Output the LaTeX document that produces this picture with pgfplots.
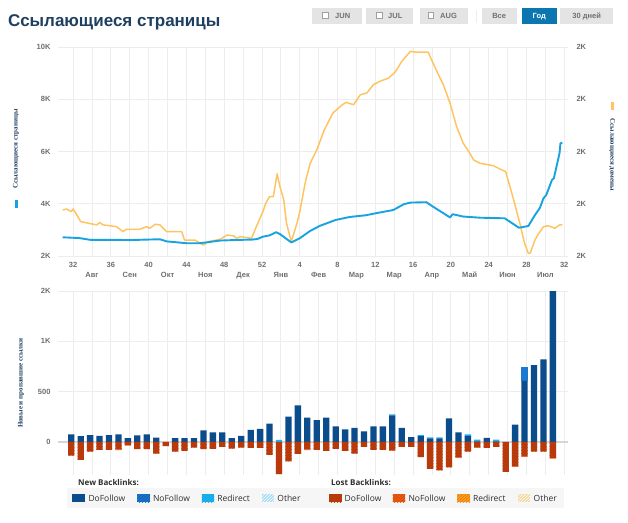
\documentclass[border=0pt]{standalone}
\usepackage{pgfplots}
\pgfplotsset{compat=1.18}
\usepackage{pgfplotstable}
\usepackage{fontspec}
\setmainfont{Liberation Sans}
\newfontfamily\serifb{Liberation Serif}
\newfontfamily\legfont{Open Sans}
\usetikzlibrary{patterns}

\definecolor{navy}{HTML}{1F3F60}
\definecolor{gridgray}{HTML}{EDEDED}
\definecolor{zerogray}{HTML}{D6D6D6}
\definecolor{labgray}{HTML}{6E6E6E}
\definecolor{monthgray}{HTML}{8C8C8C}
\definecolor{blueline}{HTML}{17A2E0}
\definecolor{yellowline}{HTML}{FFC462}
\definecolor{newDo}{HTML}{0B4C8C}
\definecolor{newNo}{HTML}{1D78D0}
\definecolor{newRe}{HTML}{1AB3F0}
\definecolor{newOt}{HTML}{A6DDF7}
\definecolor{lostDo}{HTML}{BE3C0C}
\definecolor{lostDoD}{HTML}{B0360A}
\definecolor{lostNo}{HTML}{EE5A10}
\definecolor{lostRe}{HTML}{F6A11C}
\definecolor{lostOt}{HTML}{F3D7A0}
\definecolor{legbg}{HTML}{F6F6F6}
\definecolor{btngray}{HTML}{E4E4E4}
\definecolor{btntext}{HTML}{707070}
\definecolor{godblue}{HTML}{0B76B0}
\definecolor{checkgray}{HTML}{A0A0A0}
\definecolor{legtext}{HTML}{2E2E2E}

% Referring pages (left axis)
\pgfplotstableread{
t v
-1.1 2716
-0.2 2700
0.6 2690
1.8 2620
4 2620
6 2610
8 2630
9.2 2640
9.9 2560
12 2490
13.4 2490
14.1 2520
15.5 2590
17 2610
19 2630
19.5 2650
20.1 2740
20.8 2790
21.5 2910
21.9 2840
23.1 2520
24 2680
25.1 2960
26.1 3150
27.8 3380
29.3 3495
31 3560
32.1 3640
33.9 3760
35 3980
35.7 4045
37.4 4060
38.1 3890
39.9 3480
40.2 3600
41.3 3510
43.1 3466
45.7 3443
47.2 3083
48.2 3148
48.9 3569
49.4 3825
49.8 4208
50.1 4335
50.7 4909
50.9 4973
51.5 5931
51.6 6314
51.8 6340
}\pagesT

% Referring domains (drawn on the same scale)
\pgfplotstableread{
t v
-1.1 3764
-0.7 3800
-0.2 3700
0 3800
0.4 3570
0.8 3316
2.5 3190
2.8 3280
3.2 3190
4.6 3125
5.3 2930
5.6 3020
7 3020
7.8 3125
8.1 3060
8.7 3215
9.2 3190
9.9 2930
11.5 2930
11.8 2610
12.9 2610
13.8 2420
14.3 2550
15.6 2640
16.3 2805
17 2770
17.3 2680
17.7 2740
18.9 2680
19.4 3125
20.1 3700
20.4 4020
20.8 4275
21.2 4275
21.6 5145
21.9 4660
22.3 4150
22.6 3250
23.1 2550
23.7 3250
24 3700
24.6 4850
25.1 5550
25.8 6060
26.6 6830
27.5 7470
28.5 7790
28.9 7880
29.7 7790
30.4 8170
31.1 8240
31.8 8560
32.5 8690
33.4 8810
34.1 9040
34.8 9450
35.7 9830
36.4 9800
37.6 9800
38.1 9390
38.6 9000
39.2 8560
39.9 7860
40.6 6960
41.3 6320
42 5940
42.4 5680
43.1 5548
44.5 5457
45.2 5330
45.8 5227
46.2 4717
46.6 4208
47.3 3251
47.8 2486
48.2 2103
48.4 2110
48.9 2612
49.2 2804
49.8 3122
50.3 3160
51 3060
51.5 3187
51.8 3187
}\domainsT

% weekly new / lost backlinks
\pgfplotstableread{
t ndo nno nre ldo lno
-0.2 73 0 0 -137 0
0.8 57 0 0 -180 0
1.8 67 0 0 -97 0
2.8 60 0 0 -80 0
3.8 67 0 0 -80 0
4.8 73 0 0 -75 -8
5.8 37 0 0 -30 -8
6.8 63 0 0 -73 0
7.8 73 0 0 -73 0
8.8 43 0 0 -117 0
9.8 0 0 0 -43 0
10.8 37 0 0 -97 0
11.8 37 0 0 -90 0
12.8 37 0 0 -57 0
13.8 113 0 0 -73 0
14.8 93 0 0 -70 0
15.8 93 0 0 -50 0
16.8 37 0 0 -67 0
17.8 60 0 0 -57 0
18.8 120 0 0 -60 0
19.8 130 0 0 -60 0
20.8 180 0 0 -130 0
21.8 0 0 20 -320 0
22.8 250 0 0 -194 0
23.8 363 0 0 -120 0
24.8 240 0 0 -75 -8
25.8 217 0 0 -80 0
26.8 240 0 0 -90 0
27.8 153 0 0 -70 0
28.8 123 0 0 -90 0
29.8 140 0 0 -117 0
30.8 103 0 0 -50 0
31.8 153 0 0 -80 0
32.8 153 0 0 -80 0
33.8 263 0 10 -85 -5
34.8 140 0 0 -50 0
35.8 47 0 0 -50 0
36.8 57 0 10 -153 0
37.8 35 0 10 -270 0
38.8 35 0 10 -283 0
39.8 233 0 0 -253 0
40.8 93 0 0 -155 -5
41.8 60 0 13 -97 0
42.8 5 0 18 -55 -5
43.8 40 0 0 -60 0
44.8 5 0 18 -50 0
45.8 0 0 0 -300 0
46.8 170 0 0 -245 -5
47.8 607 133 0 -145 -5
48.8 763 0 0 -97 0
49.8 820 0 0 -97 0
50.8 1500 0 0 -160 -7
}\barsT

\pgfplotsset{
  base/.style={
    scale only axis, width=510pt,
    xmin=-1.6, xmax=52.4,
    axis line style={draw=none},
    tick style={draw=none},
    scaled ticks=false,
  },
  tlab/.style={font=\fontsize{7.5}{9}\selectfont\bfseries, text=labgray},
}

\begin{document}
\begin{tikzpicture}
\useasboundingbox (0,0) rectangle (628pt,-522pt);

% ---------- title and buttons ----------
\node[anchor=base west, inner sep=0, font=\fontsize{17}{17}\selectfont\bfseries, text=navy] at (8pt,-26pt) {Ссылающиеся страницы};

\fill[btngray] (312pt,-8.3pt) rectangle (362pt,-24pt);
\draw[checkgray, fill=white, line width=0.6pt] (322.7pt,-12.7pt) rectangle (328.3pt,-18.3pt);
\node[anchor=west, inner sep=0, font=\fontsize{7.5}{9}\selectfont\bfseries, text=btntext] at (335pt,-16.2pt) {JUN};
\fill[btngray] (365.7pt,-8.3pt) rectangle (413.3pt,-24pt);
\draw[checkgray, fill=white, line width=0.6pt] (376.7pt,-12.7pt) rectangle (382.3pt,-18.3pt);
\node[anchor=west, inner sep=0, font=\fontsize{7.5}{9}\selectfont\bfseries, text=btntext] at (388pt,-16.2pt) {JUL};
\fill[btngray] (419.7pt,-8.3pt) rectangle (468pt,-24pt);
\draw[checkgray, fill=white, line width=0.6pt] (428pt,-12.7pt) rectangle (433.6pt,-18.3pt);
\node[anchor=west, inner sep=0, font=\fontsize{7.5}{9}\selectfont\bfseries, text=btntext] at (440pt,-16.2pt) {AUG};
\draw[gridgray, line width=0.8pt] (476pt,-10pt) -- (476pt,-23pt);
\fill[btngray] (481.7pt,-8.3pt) rectangle (516.7pt,-24pt);
\node[inner sep=0, font=\fontsize{7.5}{9}\selectfont\bfseries, text=btntext] at (499.2pt,-16.2pt) {Все};
\fill[godblue] (521.7pt,-8.3pt) rectangle (556.7pt,-24pt);
\node[inner sep=0, font=\fontsize{7.5}{9}\selectfont\bfseries, text=white] at (539.2pt,-16.2pt) {Год};
\fill[btngray] (560pt,-8.3pt) rectangle (613.3pt,-24pt);
\node[inner sep=0, font=\fontsize{7.5}{9}\selectfont\bfseries, text=btntext] at (586.7pt,-16.2pt) {30 дней};

% ---------- top chart ----------
\begin{axis}[base,
  at={(58pt,-256pt)}, anchor=south west, height=209pt,
  ymin=2000, ymax=10000,
  xtick={0,4,...,52},
  xticklabels={32,36,40,44,48,52,4,8,12,16,20,24,28,32},
  extra x ticks={2,6,...,50},
  extra x tick labels={Авг,Сен,Окт,Ноя,Дек,Янв,Фев,Мар,Мар,Апр,Май,Июн,Июл},
  extra x tick style={grid=major, tick label style={yshift=-10pt, text height=5.5pt, text depth=1pt, font=\serifb\fontsize{7}{8}\selectfont\bfseries, text=monthgray}},
  xticklabel style={tlab, yshift=-2pt, text height=5.5pt, text depth=0pt},
  ytick={2000,4000,...,10000},
  yticklabels={2K,4K,6K,8K,10K},
  yticklabel style={tlab, xshift=-4pt},
  xmajorgrids, ymajorgrids,
  grid style={draw=gridgray, line width=1pt},
]
\addplot[yellowline, line width=1.5pt, line join=round] table[x=t, y=v] {\domainsT};
\addplot[blueline, line width=1.9pt, line join=round] table[x=t, y=v] {\pagesT};
\end{axis}
% right-hand labels of the domains axis
\begin{axis}[base,
  at={(58pt,-256pt)}, anchor=south west, height=209pt,
  ymin=2000, ymax=10000,
  hide x axis,
  ytick={2000,4000,...,10000},
  yticklabels={2K,2K,2K,2K,2K},
  yticklabel pos=right,
  yticklabel style={tlab, xshift=5pt},
]
\addplot[draw=none] coordinates {(0,5000)};
\end{axis}

% ---------- bottom chart: new backlinks ----------
\begin{axis}[base,
  at={(58pt,-475pt)}, anchor=south west, height=184pt,
  ymin=-330, ymax=1500,
  xtick={0,2,...,52}, xticklabels={},
  ytick={0,500,1000,1500},
  yticklabels={0,500,1K,2K},
  yticklabel style={tlab, xshift=-4pt},
  extra y ticks={0}, extra y tick labels={},
  extra y tick style={grid=major, grid style={draw=zerogray, line width=1.6pt}},
  xmajorgrids, ymajorgrids,
  grid style={draw=gridgray, line width=1pt},
  ybar stacked, bar width=6.3pt,
]
\addplot[fill=newDo, draw=none] table[x=t, y=ndo] {\barsT};
\addplot[fill=newNo, draw=none] table[x=t, y=nno] {\barsT};
\addplot[fill=newRe, draw=none] table[x=t, y=nre] {\barsT};
\end{axis}
% ---------- bottom chart: lost backlinks ----------
\begin{axis}[base,
  at={(58pt,-475pt)}, anchor=south west, height=184pt,
  ymin=-330, ymax=1500,
  hide axis,
  ybar stacked, bar width=6.3pt,
]
\addplot[fill=lostDo, draw=none, postaction={pattern=north east lines, pattern color=lostDoD}] table[x=t, y=ldo] {\barsT};
\addplot[fill=lostNo, draw=none] table[x=t, y=lno] {\barsT};
\end{axis}

% ---------- axis titles ----------
\node[rotate=90, inner sep=0, font=\serifb\fontsize{7}{8}\selectfont\bfseries, text=navy] at (16pt,-149pt) {Ссылающиеся страницы};
\fill[blueline] (14.6pt,-200pt) rectangle (17.6pt,-208pt);
\node[rotate=-90, inner sep=0, font=\serifb\fontsize{7}{8}\selectfont\bfseries, text=navy] at (612pt,-155pt) {Ссылающиеся домены};
\fill[yellowline] (610.5pt,-102pt) rectangle (613.5pt,-110pt);
\node[rotate=90, inner sep=0, font=\serifb\fontsize{7}{8}\selectfont\bfseries, text=navy] at (21pt,-383pt) {Новые и пропавшие ссылки};

% ---------- legend ----------
\fill[legbg] (67pt,-488pt) rectangle (564pt,-508pt);
\node[anchor=base west, inner sep=0, font=\legfont\fontsize{8}{9}\selectfont\bfseries, text=legtext] at (78pt,-485pt) {New Backlinks:};
\node[anchor=base west, inner sep=0, font=\legfont\fontsize{8}{9}\selectfont\bfseries, text=legtext] at (331pt,-485pt) {Lost Backlinks:};
\tikzset{lt/.style={anchor=base west, inner sep=0, font=\legfont\fontsize{8.5}{9}\selectfont, text=legtext}}
\fill[newDo] (72.3pt,-494pt) rectangle (85pt,-502.3pt);
\node[lt] at (88.3pt,-501.5pt) {DoFollow};
\fill[newNo] (137.3pt,-494pt) rectangle (150pt,-502.3pt);
\fill[pattern=north east lines, pattern color=newDo!60!newNo] (137.3pt,-494pt) rectangle (150pt,-502.3pt);
\node[lt] at (152.8pt,-501.5pt) {NoFollow};
\fill[newRe] (201.7pt,-494pt) rectangle (214.4pt,-502.3pt);
\fill[pattern=north east lines, pattern color=newRe!70!newNo] (201.7pt,-494pt) rectangle (214.4pt,-502.3pt);
\node[lt] at (217.2pt,-501.5pt) {Redirect};
\fill[newOt] (261.7pt,-494pt) rectangle (274.4pt,-502.3pt);
\fill[pattern=north east lines, pattern color=white] (261.7pt,-494pt) rectangle (274.4pt,-502.3pt);
\node[lt] at (277.2pt,-501.5pt) {Other};

\fill[lostDo] (329pt,-494pt) rectangle (341.7pt,-502.3pt);
\fill[pattern=north east lines, pattern color=lostDoD] (329pt,-494pt) rectangle (341.7pt,-502.3pt);
\node[lt] at (344.5pt,-501.5pt) {DoFollow};
\fill[lostNo] (392.7pt,-494pt) rectangle (405.4pt,-502.3pt);
\fill[pattern=north east lines, pattern color=lostDo!60!lostNo] (392.7pt,-494pt) rectangle (405.4pt,-502.3pt);
\node[lt] at (408.3pt,-501.5pt) {NoFollow};
\fill[lostRe] (457.3pt,-494pt) rectangle (470pt,-502.3pt);
\fill[pattern=north east lines, pattern color=lostNo!60!lostRe] (457.3pt,-494pt) rectangle (470pt,-502.3pt);
\node[lt] at (472.8pt,-501.5pt) {Redirect};
\fill[lostOt] (518pt,-494pt) rectangle (530.2pt,-502.3pt);
\fill[pattern=north east lines, pattern color=white] (518pt,-494pt) rectangle (530.2pt,-502.3pt);
\node[lt] at (533.5pt,-501.5pt) {Other};
\end{tikzpicture}
\end{document}
